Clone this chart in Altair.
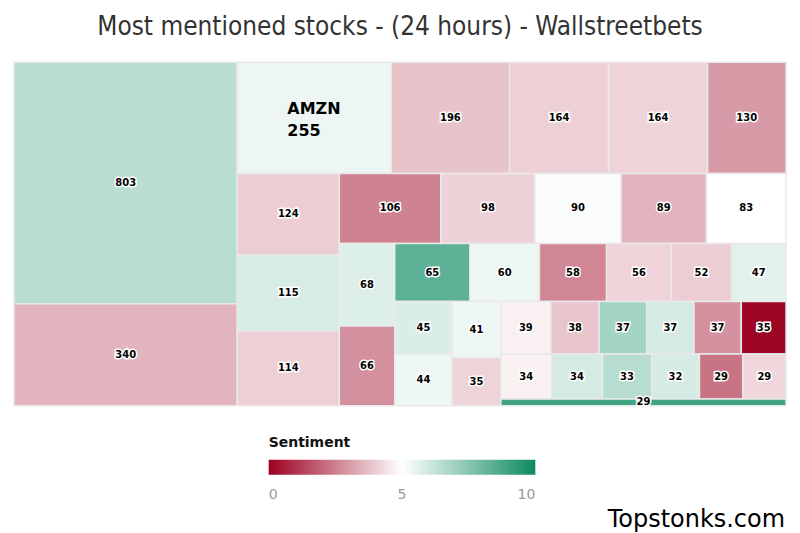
import altair as alt
import pandas as pd

# ---- data ----
values = [803, 340,
          255, 196, 164, 164, 130,
          124, 115, 114,
          106, 98, 90, 89, 83,
          68, 66,
          65, 60, 58, 56, 52, 47,
          45, 44,
          41, 35,
          39, 38, 37, 37, 37, 35,
          34, 34, 33, 32, 29, 29,
          29]
sentiment = [6.45, 3.55,
             5.37, 3.82, 4.08, 4.14, 3.02,
             4.02, 5.80, 4.08,
             2.55, 4.12, 5.08, 3.55, 5.0,
             5.70, 2.82,
             8.35, 5.37, 2.63, 4.14, 4.02, 5.60,
             5.75, 5.35,
             5.35, 4.14,
             4.71, 3.84, 6.90, 5.90, 2.84, 0.10,
             4.73, 5.90, 6.50, 5.85, 2.27, 4.22,
             8.90]
names = [""] * len(values)
names[2] = "AMZN"
# tiling recipe: orientation of each strip and the number of items in it
strips = [("col", 2), ("row", 5), ("col", 3), ("row", 5), ("col", 2), ("row", 6),
          ("col", 2), ("col", 2), ("row", 6), ("row", 6), ("row", 1)]

W, H = 773.0, 344.0

# ---- slice-and-dice strip layout computed from the values ----
rects = []
x0, y0, x1, y1 = 0.0, 0.0, W, H
i = 0
remaining = float(sum(values))
for orient, n in strips:
    group = values[i:i + n]
    s = float(sum(group))
    if orient == "col":
        w = (x1 - x0) * s / remaining
        yy = y0
        for v in group:
            h = (y1 - y0) * v / s
            rects.append((x0, x0 + w, yy, yy + h))
            yy += h
        x0 += w
    else:
        h = (y1 - y0) * s / remaining
        xx = x0
        for v in group:
            w = (x1 - x0) * v / s
            rects.append((xx, xx + w, y0, y0 + h))
            xx += w
        y0 += h
    remaining -= s
    i += n

df = pd.DataFrame({
    "value": values,
    "sentiment": sentiment,
    "name": names,
    "x": [r[0] for r in rects],
    "x2": [r[1] for r in rects],
    "y": [r[2] for r in rects],
    "y2": [r[3] for r in rects],
})
df["cx"] = (df["x"] + df["x2"]) / 2
df["cy"] = (df["y"] + df["y2"]) / 2
df["label"] = df["value"].astype(str)
df["biglabel"] = df.apply(lambda r: r["name"] + "\n" + str(r["value"]) if r["name"] else "", axis=1)

xs = alt.Scale(domain=[0, W], nice=False, zero=False)
ys = alt.Scale(domain=[0, H], nice=False, zero=False, reverse=True)

color = alt.Color(
    "sentiment:Q",
    scale=alt.Scale(domain=[0, 5, 10], range=["#9b0020", "#ffffff", "#0e8a62"], interpolate="rgb"),
    legend=alt.Legend(
        title="Sentiment", orient="none", direction="horizontal",
        legendX=255, legendY=374, gradientLength=267, gradientThickness=15,
        values=[0, 5, 10], titleFontSize=14, titleColor="#111", titleFont="DejaVu Sans",
        labelFontSize=14, labelColor="#999", labelFont="DejaVu Sans", titlePadding=10,
        labelOffset=13, gradientStrokeWidth=0, tickCount=3,
    ),
)

base = alt.Chart(df)

cells = base.mark_rect(stroke="#e9e9e9", strokeWidth=1.5).encode(
    x=alt.X("x:Q", scale=xs, axis=None),
    x2="x2:Q",
    y=alt.Y("y:Q", scale=ys, axis=None),
    y2="y2:Q",
    color=color,
    tooltip=["value:Q", "sentiment:Q"],
)

small = base.transform_filter("datum.name == ''")
halo = small.mark_text(font="DejaVu Sans", fontSize=10, fontWeight="bold", stroke="white",
                       strokeWidth=3, fill="black", baseline="middle").encode(
    x=alt.X("cx:Q", scale=xs), y=alt.Y("cy:Q", scale=ys), text="label:N")
txt = small.mark_text(font="DejaVu Sans", fontSize=10, fontWeight="bold", fill="black",
                      baseline="middle").encode(
    x=alt.X("cx:Q", scale=xs), y=alt.Y("cy:Q", scale=ys), text="label:N")

big = base.transform_filter("datum.name != ''").mark_text(
    font="DejaVu Sans", fontSize=16, fontWeight="bold", fill="black", align="left",
    baseline="middle", lineBreak="\n", lineHeight=22, dx=-27, dy=-9).encode(
    x=alt.X("cx:Q", scale=xs), y=alt.Y("cy:Q", scale=ys), text="biglabel:N")

brand = alt.Chart(pd.DataFrame({"t": ["Topstonks.com"]})).mark_text(
    font="DejaVu Sans", fontSize=24, align="right", baseline="alphabetic", color="black").encode(
    x=alt.value(772), y=alt.value(465), text="t:N")

chart = alt.layer(cells, halo, txt, big, brand).properties(
    width=W, height=H,
    title=alt.Title("Most mentioned stocks - (24 hours) - Wallstreetbets", fontSize=26,
                    font="DejaVu Sans Condensed, DejaVu Sans", fontWeight="normal",
                    color="#333", anchor="middle", offset=22),
).configure_view(stroke=None)

chart.save("out.html", embed_options={"renderer": "svg", "actions": False})
